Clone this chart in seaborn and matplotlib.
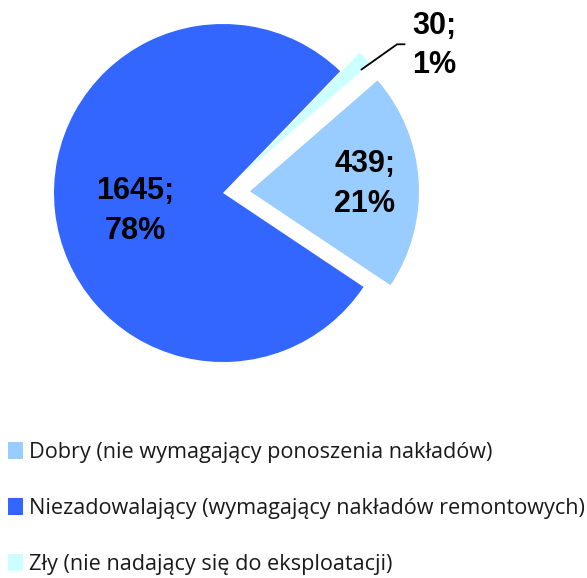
# Pie chart: condition of buildings (Dobry / Niezadowalający / Zły)

import numpy as np
import matplotlib
matplotlib.use('Agg')
import matplotlib.pyplot as plt
import seaborn as sns
from matplotlib.patches import Patch

# Data
categories = ['Dobry (nie wymagający ponoszenia nakładów)',
              'Niezadowalający (wymagający nakładów remontowych)',
              'Zły (nie nadający się do eksploatacji)']
counts = [439, 1645, 30]
shares = [21, 78, 1]
colors = ['#99CCFF', '#3366FF', '#CCFFFF']

sns.set_theme(style='white')
plt.rcParams['font.family'] = ['Liberation Sans', 'DejaVu Sans']
plt.rcParams['text.color'] = 'black'

W, H = 587, 578
fig = plt.figure(figsize=(W / 100, H / 100), dpi=100)

# pie axes placed so the centre is at (223, 193) px and radius 169 px
R, cx, cy, span = 169, 223, 193, 1.35
ax = fig.add_axes([(cx - R * span) / W, 1 - (cy + R * span) / H,
                   2 * R * span / W, 2 * R * span / H])
wedges, _ = ax.pie(counts, colors=colors, startangle=41, counterclock=False,
                   explode=[0.16, 0, 0.16], wedgeprops=dict(linewidth=0))
ax.set_xlim(-span, span)
ax.set_ylim(-span, span)

# labels inside the two big slices
dist = [0.68, 0.52]
nudge = [0.0, -0.05]
for i in range(2):
    w = wedges[i]
    ang = np.deg2rad((w.theta1 + w.theta2) / 2)
    x0, y0 = w.center
    ax.text(x0 + dist[i] * np.cos(ang), y0 + dist[i] * np.sin(ang) + nudge[i],
            f'{counts[i]};\n{shares[i]}%', ha='center', va='center',
            fontsize=22, fontweight='bold', linespacing=1.4, color='black')

# small slice: label outside with a leader line
w = wedges[2]
ang = np.deg2rad((w.theta1 + w.theta2) / 2)
x0, y0 = w.center
sx, sy = x0 + 0.97 * np.cos(ang), y0 + 0.9 * np.sin(ang)
ax.plot([sx, 1.03, 1.075], [sy, 0.88, 0.88], color='black', lw=1.3,
        clip_on=False)
ax.text(1.12, 0.875, f'{counts[2]};\n{shares[2]}%', ha='left', va='center',
        fontsize=22, fontweight='bold', linespacing=1.4, color='black')

# legend at the bottom
handles = [Patch(facecolor=c, edgecolor='none') for c in colors]
leg = fig.legend(handles, categories, loc='upper left',
                 bbox_to_anchor=(8 / W, 1 - 442 / H), frameon=False,
                 prop={'family': 'Open Sans', 'size': 15.6},
                 handlelength=0.7, handleheight=0.8, handletextpad=0.25,
                 labelspacing=1.62, borderpad=0, borderaxespad=0)
for t in leg.get_texts():
    t.set_color('#1a1a1a')

fig.savefig('out.png', dpi=100)
